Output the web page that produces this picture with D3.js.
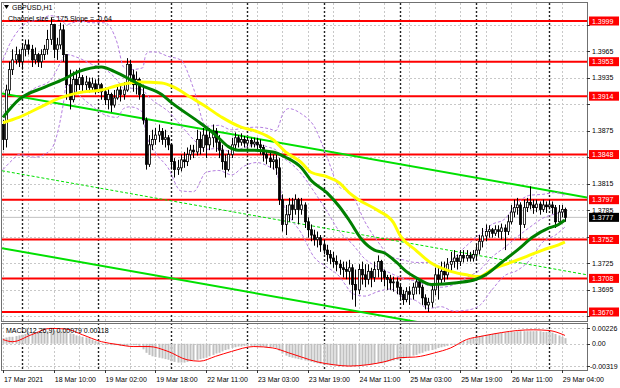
<!DOCTYPE html>
<html>
<head>
<meta charset="utf-8">
<script src="https://cdn.jsdelivr.net/npm/d3@7"></script>
<style>
  body { margin: 0; background: #fff; }
  svg text { font-family: "Liberation Sans", Arial, sans-serif; font-size: 7px; }
</style>
</head>
<body>
<svg id="chart" width="620" height="388"></svg>
<script>
// GBPUSD H1 bars, 17 Mar 18:00 .. 29 Mar 05:00 (bar index = position on chart)
const firstOpen = 1.3882;
const closes = [
  1.3865,1.3921,1.3944,1.3955,1.3961,1.3953,1.3967,1.3972,1.3967,1.3955,
  1.3961,1.3953,1.3961,1.3967,1.3978,1.3995,1.3967,1.3972,1.3989,1.3961,
  1.3927,1.3910,1.3933,1.3927,1.3935,1.3927,1.3930,1.3924,1.3928,1.3921,
  1.3927,1.3919,1.3910,1.3916,1.3904,1.3912,1.3921,1.3916,1.3921,1.3950,
  1.3938,1.3927,1.3933,1.3916,1.3887,1.3837,1.3859,1.3865,1.3870,1.3874,
  1.3865,1.3867,1.3859,1.3840,1.3831,1.3833,1.3842,1.3840,1.3848,1.3853,
  1.3851,1.3865,1.3856,1.3870,1.3859,1.3867,1.3874,1.3862,1.3853,1.3840,
  1.3831,1.3848,1.3859,1.3867,1.3862,1.3865,1.3861,1.3864,1.3860,1.3862,
  1.3859,1.3856,1.3848,1.3844,1.3840,1.3842,1.3833,1.3797,1.3769,1.3780,
  1.3791,1.3786,1.3797,1.3786,1.3791,1.3772,1.3763,1.3757,1.3752,1.3754,
  1.3746,1.3740,1.3735,1.3731,1.3727,1.3724,1.3720,1.3718,1.3716,1.3720,
  1.3701,1.3695,1.3718,1.3712,1.3707,1.3716,1.3709,1.3718,1.3727,1.3716,
  1.3709,1.3707,1.3703,1.3704,1.3698,1.3690,1.3684,1.3693,1.3690,1.3698,
  1.3704,1.3698,1.3686,1.3678,1.3681,1.3695,1.3712,1.3707,1.3716,1.3712,
  1.3724,1.3727,1.3731,1.3727,1.3734,1.3731,1.3734,1.3731,1.3735,1.3740,
  1.3750,1.3756,1.3761,1.3763,1.3759,1.3763,1.3761,1.3765,1.3761,1.3772,
  1.3783,1.3788,1.3791,1.3769,1.3788,1.3794,1.3791,1.3788,1.3792,1.3786,
  1.3791,1.3789,1.3791,1.3788,1.3772,1.3783,1.3786,1.3777
];
const highs = [
  1.3887,1.3927,1.3953,1.3967,1.3970,1.3967,1.3974,1.3978,1.3978,1.3972,
  1.3969,1.3963,1.3967,1.3972,1.3989,1.4003,1.3989,1.3980,1.3997,1.3995,
  1.3961,1.3944,1.3942,1.3944,1.3946,1.3938,1.3937,1.3935,1.3935,1.3933,
  1.3935,1.3929,1.3924,1.3924,1.3918,1.3921,1.3927,1.3927,1.3930,1.3957,
  1.3955,1.3944,1.3942,1.3935,1.3927,1.3890,1.3870,1.3876,1.3878,1.3882,
  1.3878,1.3876,1.3870,1.3861,1.3844,1.3842,1.3848,1.3851,1.3856,1.3859,
  1.3859,1.3876,1.3874,1.3878,1.3876,1.3878,1.3882,1.3878,1.3870,1.3859,
  1.3848,1.3853,1.3867,1.3873,1.3870,1.3872,1.3869,1.3868,1.3867,1.3867,
  1.3867,1.3865,1.3859,1.3853,1.3851,1.3848,1.3848,1.3844,1.3803,1.3791,
  1.3799,1.3799,1.3803,1.3799,1.3799,1.3794,1.3777,1.3769,1.3763,1.3761,
  1.3757,1.3752,1.3746,1.3740,1.3738,1.3734,1.3729,1.3727,1.3727,1.3729,
  1.3724,1.3718,1.3724,1.3727,1.3724,1.3724,1.3720,1.3727,1.3734,1.3729,
  1.3718,1.3712,1.3712,1.3710,1.3709,1.3701,1.3695,1.3698,1.3699,1.3703,
  1.3709,1.3708,1.3701,1.3690,1.3686,1.3701,1.3720,1.3720,1.3727,1.3727,
  1.3731,1.3738,1.3740,1.3735,1.3740,1.3740,1.3740,1.3738,1.3740,1.3747,
  1.3757,1.3765,1.3769,1.3768,1.3765,1.3768,1.3768,1.3770,1.3769,1.3780,
  1.3791,1.3797,1.3799,1.3794,1.3797,1.3799,1.3812,1.3797,1.3797,1.3795,
  1.3797,1.3795,1.3797,1.3795,1.3791,1.3791,1.3791,1.3788
];
const lows = [
  1.3853,1.3856,1.3916,1.3938,1.3950,1.3947,1.3944,1.3959,1.3961,1.3947,
  1.3950,1.3947,1.3946,1.3955,1.3961,1.3972,1.3957,1.3955,1.3967,1.3953,
  1.3910,1.3899,1.3907,1.3919,1.3921,1.3919,1.3921,1.3918,1.3921,1.3916,
  1.3918,1.3910,1.3904,1.3899,1.3896,1.3901,1.3910,1.3908,1.3910,1.3919,
  1.3930,1.3919,1.3916,1.3910,1.3882,1.3831,1.3834,1.3853,1.3859,1.3862,
  1.3859,1.3856,1.3853,1.3831,1.3822,1.3825,1.3829,1.3833,1.3835,1.3842,
  1.3844,1.3847,1.3848,1.3851,1.3844,1.3853,1.3856,1.3851,1.3844,1.3831,
  1.3822,1.3829,1.3844,1.3853,1.3856,1.3858,1.3856,1.3857,1.3856,1.3856,
  1.3853,1.3848,1.3840,1.3837,1.3833,1.3831,1.3825,1.3791,1.3761,1.3757,
  1.3772,1.3774,1.3780,1.3769,1.3780,1.3765,1.3754,1.3750,1.3745,1.3743,
  1.3738,1.3735,1.3727,1.3724,1.3720,1.3716,1.3712,1.3709,1.3707,1.3701,
  1.3684,1.3676,1.3690,1.3701,1.3698,1.3701,1.3698,1.3704,1.3709,1.3704,
  1.3699,1.3695,1.3695,1.3693,1.3690,1.3684,1.3678,1.3681,1.3678,1.3684,
  1.3690,1.3690,1.3678,1.3673,1.3670,1.3675,1.3689,1.3684,1.3701,1.3704,
  1.3707,1.3716,1.3720,1.3718,1.3722,1.3726,1.3727,1.3727,1.3727,1.3729,
  1.3735,1.3743,1.3750,1.3754,1.3754,1.3756,1.3754,1.3752,1.3740,1.3757,
  1.3769,1.3777,1.3780,1.3752,1.3765,1.3783,1.3786,1.3781,1.3783,1.3780,
  1.3783,1.3782,1.3786,1.3781,1.3765,1.3770,1.3777,1.3772
];

// moving averages (30 and 50) and Bollinger bands, read as [bar, price]
const greenMA = [[0,1.3890],[5,1.3910],[13,1.3924],[19,1.3933],[24,1.3942],[31,1.3947],[35,1.3942],[40,1.3933],[43,1.3927],[50,1.3916],[53,1.3907],[62,1.3884],[67,1.3870],[71,1.3857],[74,1.3853],[78,1.3853],[85,1.3851],[89,1.3845],[94,1.3833],[97,1.3819],[102,1.3805],[106,1.3789],[109,1.3774],[113,1.3752],[117,1.3740],[120,1.3737],[124,1.3726],[127,1.3716],[130,1.3709],[135,1.3701],[143,1.3703],[149,1.3707],[152,1.3712],[157,1.3726],[162,1.3740],[167,1.3755],[172,1.3765],[175,1.3769],[177,1.3774]];
const yellowMA = [[0,1.3884],[5,1.3890],[12,1.3902],[18,1.3912],[24,1.3918],[31,1.3921],[37,1.3927],[43,1.3930],[50,1.3929],[54,1.3924],[59,1.3913],[64,1.3902],[69,1.3890],[75,1.3879],[80,1.3874],[85,1.3865],[89,1.3851],[94,1.3839],[97,1.3828],[102,1.3823],[106,1.3816],[109,1.3805],[112,1.3797],[118,1.3785],[123,1.3771],[125,1.3757],[130,1.3740],[135,1.3725],[141,1.3716],[146,1.3712],[150,1.3710],[154,1.3718],[160,1.3726],[165,1.3733],[170,1.3740],[175,1.3746],[177,1.3749]];
const bandUpper = [[0,1.3955],[2,1.3972],[5,1.3989],[8,1.3998],[11,1.4000],[15,1.4005],[18,1.4002],[20,1.3995],[24,1.3999],[28,1.3997],[32,1.3997],[36,1.3974],[38,1.3947],[40,1.3944],[44,1.3946],[45,1.3961],[46,1.3964],[48,1.3964],[52,1.3959],[56,1.3955],[60,1.3923],[64,1.3880],[68,1.3881],[72,1.3876],[76,1.3878],[80,1.3879],[84,1.3877],[86,1.3875],[87,1.3882],[88,1.3893],[90,1.3900],[94,1.3894],[98,1.3880],[102,1.3846],[106,1.3811],[108,1.3808],[110,1.3802],[114,1.3772],[118,1.3750],[122,1.3733],[126,1.3729],[130,1.3726],[134,1.3726],[138,1.3720],[142,1.3731],[146,1.3745],[150,1.3757],[154,1.3769],[158,1.3775],[162,1.3793],[166,1.3802],[170,1.3803],[174,1.3805],[177,1.3802]];
const bandMiddle = [[0,1.3893],[5,1.3910],[10,1.3923],[15,1.3932],[17,1.3944],[19,1.3958],[20,1.3961],[24,1.3957],[28,1.3950],[32,1.3945],[36,1.3932],[38,1.3923],[40,1.3923],[44,1.3921],[45,1.3917],[46,1.3913],[48,1.3907],[52,1.3897],[56,1.3881],[60,1.3865],[64,1.3854],[68,1.3855],[72,1.3851],[76,1.3856],[80,1.3859],[84,1.3856],[86,1.3853],[87,1.3849],[88,1.3845],[90,1.3840],[94,1.3826],[98,1.3806],[102,1.3784],[106,1.3761],[110,1.3747],[114,1.3730],[118,1.3721],[122,1.3714],[126,1.3708],[130,1.3705],[134,1.3700],[138,1.3698],[142,1.3701],[146,1.3709],[150,1.3717],[154,1.3732],[158,1.3743],[162,1.3755],[166,1.3766],[170,1.3776],[174,1.3781],[177,1.3784]];
const bandLower = [[0,1.3831],[3,1.3842],[5,1.3848],[10,1.3845],[15,1.3853],[17,1.3870],[19,1.3905],[20,1.3927],[24,1.3915],[28,1.3903],[32,1.3893],[36,1.3890],[38,1.3900],[40,1.3902],[44,1.3896],[45,1.3872],[46,1.3862],[48,1.3850],[52,1.3833],[56,1.3807],[60,1.3806],[64,1.3828],[68,1.3830],[72,1.3825],[76,1.3835],[80,1.3839],[84,1.3834],[86,1.3830],[87,1.3817],[88,1.3797],[90,1.3780],[94,1.3759],[98,1.3732],[102,1.3721],[106,1.3710],[108,1.3700],[110,1.3691],[114,1.3688],[118,1.3693],[122,1.3696],[126,1.3687],[130,1.3683],[134,1.3674],[138,1.3676],[142,1.3671],[146,1.3672],[150,1.3677],[154,1.3695],[158,1.3711],[162,1.3717],[166,1.3729],[170,1.3749],[174,1.3757],[177,1.3766]];

// equidistant channel: upper line anchors [bar, price], size in price
const channelAnchors = [[0, 1.3917], [177, 1.3804]];
const channelSize = 0.0175;

const levels = [1.3999, 1.3953, 1.3914, 1.3848, 1.3797, 1.3752, 1.3708, 1.3670];
const lastPrice = 1.3777;
const priceTicks = [1.3995, 1.3965, 1.3935, 1.3905, 1.3875, 1.3845, 1.3815, 1.3785, 1.3755, 1.3725, 1.3695, 1.3665];

const timeLabels = ["17 Mar 2021", "18 Mar 10:00", "19 Mar 02:00", "19 Mar 18:00", "22 Mar 11:00", "23 Mar 03:00",
                    "23 Mar 19:00", "24 Mar 11:00", "25 Mar 03:00", "25 Mar 19:00", "26 Mar 11:00", "29 Mar 04:00"];
const timeLabelBars = [0, 16, 32, 48, 64, 80, 96, 112, 128, 144, 160, 176];
const daySeparatorBars = [6, 30, 53, 77, 101, 125, 149, 172];

// MACD(12,26,9)
const macdHist = [
  .0008,.0009,.0010,.0010,.0011,.0012,.0013,.0014,.0015,.0015,
  .0016,.0016,.0017,.0017,.0018,.0018,.0019,.0019,.0019,.0018,
  .0017,.0015,.0014,.0012,.0011,.0010,.0009,.0008,.0006,.0004,
  .0003,.0001,-.0001,-.0001,-.0002,-.0002,-.0002,-.0003,-.0003,-.0003,
  -.0002,-.0002,-.0002,-.0003,-.0008,-.0013,-.0016,-.0018,-.0019,-.0020,
  -.0021,-.0022,-.0023,-.0025,-.0026,-.0027,-.0027,-.0027,-.0026,-.0025,
  -.0024,-.0023,-.0022,-.0021,-.0020,-.0018,-.0016,-.0014,-.0013,-.0011,
  -.0009,-.0008,-.0006,-.0005,-.0004,-.0004,-.0003,-.0003,-.0003,-.0003,
  -.0003,-.0004,-.0004,-.0005,-.0005,-.0005,-.0006,-.0010,-.0014,-.0017,
  -.0019,-.0020,-.0021,-.0022,-.0023,-.0024,-.0025,-.0026,-.0027,-.0028,
  -.0029,-.0030,-.0030,-.0031,-.0031,-.0031,-.0032,-.0032,-.0032,-.0032,
  -.0032,-.0032,-.0032,-.0031,-.0031,-.0030,-.0030,-.0029,-.0028,-.0028,
  -.0027,-.0026,-.0025,-.0024,-.0023,-.0022,-.0021,-.0020,-.0019,-.0017,
  -.0016,-.0014,-.0013,-.0011,-.0010,-.0009,-.0008,-.0006,-.0005,-.0004,
  -.0003,-.0002,-.0001,.0000,.0002,.0004,.0005,.0007,.0008,.0010,
  .0011,.0012,.0013,.0013,.0014,.0015,.0015,.0016,.0016,.0017,
  .0017,.0017,.0018,.0018,.0018,.0018,.0018,.0018,.0018,.0018,
  .0017,.0017,.0017,.0016,.0014,.0012,.0010,.0008
];
const macdSignal = [[0,.0006],[3,.0003],[9,.0013],[15,.0022],[20,.0021],[25,.0013],[31,.0003],[36,-.0001],[41,-.0004],[46,-.0004],[52,-.0011],[58,-.0023],[62,-.0025],[67,-.0018],[72,-.0011],[79,-.0004],[85,-.0006],[90,-.0013],[94,-.0019],[99,-.0026],[104,-.0030],[109,-.0032],[115,-.0030],[120,-.0026],[125,-.0020],[130,-.0019],[136,-.0013],[141,-.0006],[146,.0006],[151,.0011],[157,.0016],[162,.0019],[167,.0020],[172,.0019],[177,.0012]];
const macdTicks = [0.00226, 0, -0.00319];
const macdTickLabels = ["0.00226", "0.00", "-0.00319"];

// ----------------------
// layout
// ----------------------
const left = 2, right = 587, mainTop = 3, mainBottom = 321, macdTop = 324, macdBottom = 370;

const svg = d3.select("#chart");
svg.append("rect").attr("width", 620).attr("height", 388).attr("fill", "#fff");

const x = d3.scaleLinear().domain([0, 177]).range([2.95, 2.95 + 177 * 3.175]);
const y = d3.scaleLinear().domain([1.3670, 1.3999]).range([312, 21]);
const ym = d3.scaleLinear().domain([-0.00319, 0.00226]).range([366, 328]);

const defs = svg.append("defs");
defs.append("clipPath").attr("id", "clipMain").append("rect")
    .attr("x", left).attr("y", mainTop).attr("width", right - left).attr("height", mainBottom - mainTop);
defs.append("clipPath").attr("id", "clipMacd").append("rect")
    .attr("x", left).attr("y", macdTop).attr("width", right - left).attr("height", macdBottom - macdTop);

const main = svg.append("g").attr("clip-path", "url(#clipMain)");
const macd = svg.append("g").attr("clip-path", "url(#clipMacd)");

// grid: horizontal at price ticks, vertical every 8 bars
main.selectAll(".hgrid").data(priceTicks).join("line")
    .attr("x1", left).attr("x2", right)
    .attr("y1", d => Math.round(y(d)) + 0.5).attr("y2", d => Math.round(y(d)) + 0.5)
    .attr("stroke", "#c8c8c8").attr("stroke-dasharray", "2,2");
const gridBars = d3.range(0, 184, 8);
[main, macd].forEach(g => {
    g.selectAll(".vgrid").data(gridBars).join("line")
     .attr("x1", d => Math.round(x(d)) + 0.5).attr("x2", d => Math.round(x(d)) + 0.5)
     .attr("y1", mainTop).attr("y2", macdBottom)
     .attr("stroke", "#c8c8c8").attr("stroke-dasharray", "2,2");
    g.selectAll(".sep").data(daySeparatorBars).join("line")
     .attr("x1", d => Math.round(x(d)) + 0.5).attr("x2", d => Math.round(x(d)) + 0.5)
     .attr("y1", mainTop).attr("y2", macdBottom)
     .attr("stroke", "#222").attr("stroke-width", 1.4).attr("stroke-dasharray", "2,2");
});
macd.selectAll(".mgrid").data(macdTicks).join("line")
    .attr("x1", left).attr("x2", right)
    .attr("y1", d => Math.round(ym(d)) + 0.5).attr("y2", d => Math.round(ym(d)) + 0.5)
    .attr("stroke", "#c8c8c8").attr("stroke-dasharray", "2,2");

// bid line
main.append("line")
    .attr("x1", left).attr("x2", right)
    .attr("y1", y(lastPrice)).attr("y2", y(lastPrice))
    .attr("stroke", "#c0c0c0");

// red levels
main.selectAll(".level").data(levels).join("line")
    .attr("x1", left).attr("x2", right)
    .attr("y1", d => y(d)).attr("y2", d => y(d))
    .attr("stroke", "#ff0000").attr("stroke-width", 2);

// channel
const slope = (channelAnchors[1][1] - channelAnchors[0][1]) / (channelAnchors[1][0] - channelAnchors[0][0]);
const chAt = (b, off) => channelAnchors[0][1] + slope * (b - channelAnchors[0][0]) - off;
const b0 = x.invert(left), b1 = x.invert(right);
[[0, "none", 2], [channelSize / 2, "3,2", 1], [channelSize, "none", 2]].forEach(([off, dash, w]) => {
    main.append("line")
        .attr("x1", left).attr("y1", y(chAt(b0, off)))
        .attr("x2", right).attr("y2", y(chAt(b1, off)))
        .attr("stroke", "#00e000").attr("stroke-width", w)
        .attr("stroke-dasharray", dash);
});

// bollinger bands
const pLine = d3.line().x(d => x(d[0])).y(d => y(d[1])).curve(d3.curveMonotoneX);
[bandUpper, bandMiddle, bandLower].forEach(b => {
    main.append("path").datum(b).attr("d", pLine)
        .attr("fill", "none").attr("stroke", "#b47ee0").attr("stroke-width", 1)
        .attr("stroke-dasharray", "3,2");
});

// candles
const bars = closes.map((c, i) => ({ i, o: i === 0 ? firstOpen : closes[i - 1], h: highs[i], l: lows[i], c }));
main.selectAll(".wick").data(bars).join("line")
    .attr("x1", d => Math.round(x(d.i)) + 0.5).attr("x2", d => Math.round(x(d.i)) + 0.5)
    .attr("y1", d => y(d.h)).attr("y2", d => y(d.l))
    .attr("stroke", "#000").attr("stroke-width", 1);
main.selectAll(".body").data(bars).join("rect")
    .attr("x", d => Math.round(x(d.i)) - 0.5)
    .attr("width", 2)
    .attr("y", d => y(Math.max(d.o, d.c)))
    .attr("height", d => Math.max(0.8, Math.abs(y(d.o) - y(d.c))))
    .attr("fill", d => d.c >= d.o ? "#fff" : "#000")
    .attr("stroke", "#000").attr("stroke-width", 0.8);

// moving averages
main.append("path").datum(yellowMA).attr("d", pLine)
    .attr("fill", "none").attr("stroke", "#ffff00").attr("stroke-width", 3);
main.append("path").datum(greenMA).attr("d", pLine)
    .attr("fill", "none").attr("stroke", "#008000").attr("stroke-width", 3);

// MACD panel
macd.selectAll(".hist").data(macdHist).join("rect")
    .attr("x", (d, i) => Math.round(x(i)) - 0.5)
    .attr("width", 2)
    .attr("y", d => Math.min(ym(d), ym(0)))
    .attr("height", d => Math.abs(ym(d) - ym(0)))
    .attr("fill", "#c0c0c0");
macd.append("path").datum(macdSignal)
    .attr("d", d3.line().x(d => x(d[0])).y(d => ym(d[1])).curve(d3.curveMonotoneX))
    .attr("fill", "none").attr("stroke", "#ff0000").attr("stroke-width", 1);

// frames
svg.append("rect").attr("x", left - 0.5).attr("y", mainTop - 0.5)
    .attr("width", right - left + 1).attr("height", mainBottom - mainTop + 1)
    .attr("fill", "none").attr("stroke", "#707070");
svg.append("rect").attr("x", left - 0.5).attr("y", macdTop - 0.5)
    .attr("width", right - left + 1).attr("height", macdBottom - macdTop + 1)
    .attr("fill", "none").attr("stroke", "#707070");

// right price axis; tick labels that sit under a level box are not drawn
const axisG = svg.append("g");
const freeTicks = priceTicks.filter(t => !levels.some(l => Math.abs(y(t) - y(l)) < 8));
axisG.selectAll(".ptick").data(priceTicks).join("line")
    .attr("x1", right).attr("x2", right + 3)
    .attr("y1", d => Math.round(y(d)) + 0.5).attr("y2", d => Math.round(y(d)) + 0.5)
    .attr("stroke", "#333");
axisG.selectAll(".plab").data(freeTicks).join("text")
    .attr("x", right + 5).attr("y", d => y(d) + 2.5)
    .attr("fill", "#000").text(d => d.toFixed(4));

axisG.selectAll(".lvlbox").data(levels).join("rect")
    .attr("x", right + 2).attr("y", d => y(d) - 4.5)
    .attr("width", 30).attr("height", 9).attr("fill", "#ff0000");
axisG.selectAll(".lvltxt").data(levels).join("text")
    .attr("x", right + 5).attr("y", d => y(d) + 2.5)
    .attr("fill", "#fff").text(d => d.toFixed(4));

axisG.append("rect").attr("x", right + 2).attr("y", y(lastPrice) - 4.5)
    .attr("width", 30).attr("height", 9).attr("fill", "#000");
axisG.append("text").attr("x", right + 5).attr("y", y(lastPrice) + 2.5)
    .attr("fill", "#fff").text(lastPrice.toFixed(4));

axisG.selectAll(".mtick").data(macdTicks).join("line")
    .attr("x1", right).attr("x2", right + 3)
    .attr("y1", d => Math.round(ym(d)) + 0.5).attr("y2", d => Math.round(ym(d)) + 0.5)
    .attr("stroke", "#333");
axisG.selectAll(".mlab").data(macdTicks).join("text")
    .attr("x", (d, i) => right + (i === 2 ? 3 : 5)).attr("y", d => ym(d) + 2.5)
    .text((d, i) => macdTickLabels[i]);

// time axis
axisG.selectAll(".ttick").data(timeLabelBars).join("line")
    .attr("x1", d => Math.round(x(d)) + 0.5).attr("x2", d => Math.round(x(d)) + 0.5)
    .attr("y1", macdBottom).attr("y2", macdBottom + 3)
    .attr("stroke", "#333");
axisG.selectAll(".tlab").data(timeLabelBars).join("text")
    .attr("x", d => Math.max(3, x(d) + 1)).attr("y", 382)
    .text((d, i) => timeLabels[i]);

// captions
svg.append("path").attr("d", "M4,5 L9,5 L6.5,9 Z").attr("fill", "#000");
svg.append("text").attr("x", 12).attr("y", 10).text("GBPUSD,H1");
svg.append("text").attr("x", 8).attr("y", 20.5).text("Channel size = 175 Slope = -0.64");
svg.append("text").attr("x", 6).attr("y", 333).text("MACD(12,26,9) 0.00079 0.00118");
</script>
</body>
</html>
